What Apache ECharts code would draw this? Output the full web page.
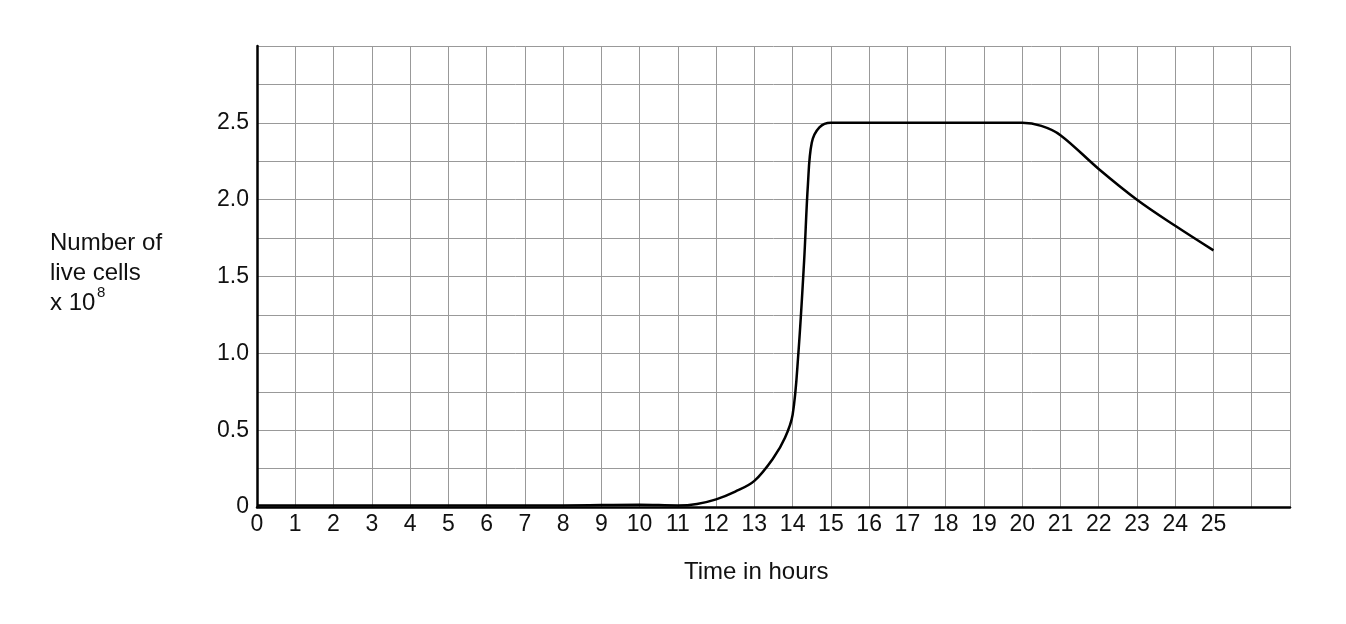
<!DOCTYPE html>
<html>
<head>
<meta charset="utf-8">
<script src="https://cdn.jsdelivr.net/npm/echarts@6/dist/echarts.min.js"></script>
<style>html,body{margin:0;background:#fff}#c{width:1346px;height:624px}</style>
</head>
<body>
<div id="c"></div>
<script>
// hours and live cells (x 10^8)
var hours = [0, 2, 4, 6, 8, 10, 11, 11.5, 12, 12.5, 13, 13.5, 13.8, 14, 14.15, 14.3, 14.4, 14.5, 14.7, 15, 17, 20, 20.5, 21, 22, 23, 24, 25];
var cells = [0.01, 0.01, 0.01, 0.01, 0.01, 0.015, 0.01, 0.02, 0.05, 0.1, 0.17, 0.32, 0.45, 0.6, 1.0, 1.6, 2.1, 2.37, 2.47, 2.5, 2.5, 2.5, 2.48, 2.42, 2.2, 2.0, 1.83, 1.67];

var chart = echarts.init(document.getElementById('c'));
var font = 'Liberation Sans, Arial, sans-serif';
chart.setOption({
    animation: false,
    grid: { left: 257, right: 56, top: 46, bottom: 117 },
    xAxis: {
        type: 'value', min: 0, max: 27, interval: 1,
        axisLine: { lineStyle: { color: '#000', width: 2.5 } },
        axisTick: { show: false },
        axisLabel: {
            color: '#111', fontSize: 23, fontFamily: font, margin: 6,
            formatter: function (v) { return v <= 25 ? String(v) : ''; }
        },
        splitLine: { show: true, lineStyle: { color: '#999', width: 1 } }
    },
    yAxis: {
        type: 'value', min: 0, max: 3, interval: 0.25,
        axisLine: { show: true, lineStyle: { color: '#000', width: 2.5 } },
        axisTick: { show: false },
        axisLabel: {
            color: '#111', fontSize: 23, fontFamily: font, margin: 8,
            formatter: function (v) {
                if (v > 2.5 || Math.abs(v * 2 - Math.round(v * 2)) > 1e-6) return '';
                return v === 0 ? '0' : v.toFixed(1);
            }
        },
        splitLine: { show: true, lineStyle: { color: '#999', width: 1 } }
    },
    series: [{
        type: 'line', smooth: 0.35, symbol: 'none',
        lineStyle: { color: '#000', width: 2.5 },
        data: hours.map(function (h, i) { return [h, cells[i]]; })
    }],
    graphic: [
        { type: 'text', left: 50, top: 228, style: { text: 'Number of\nlive cells\nx 10', font: '24px ' + font, fill: '#111', lineHeight: 30 } },
        { type: 'text', left: 97, top: 285, style: { text: '8', font: '15px ' + font, fill: '#111' } },
        { type: 'text', left: 684, top: 560, style: { text: 'Time in hours', font: '24px ' + font, fill: '#111' } }
    ]
});
</script>
</body>
</html>
